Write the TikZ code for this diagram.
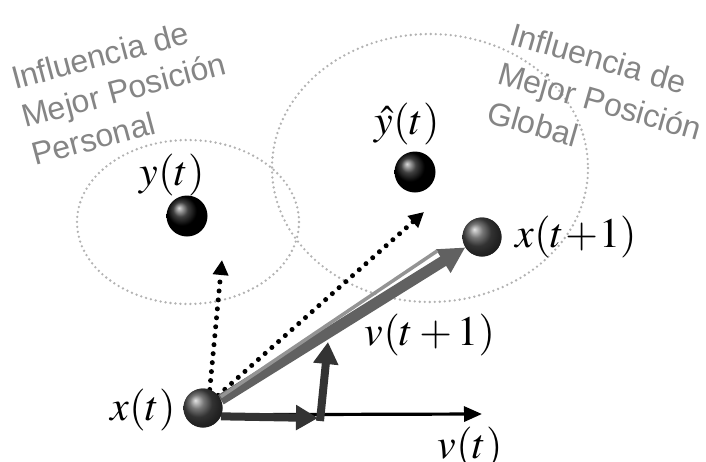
\documentclass[tikz,border=0pt]{standalone}
\usepackage{mathptmx}
\usepackage{fontspec}
\setsansfont{Liberation Sans}
\usetikzlibrary{arrows.meta}
\begin{document}
\begin{tikzpicture}[x=1pt,y=-1pt,
  ell/.style={draw=black!30, line width=2.6pt, dash pattern=on 0pt off 5pt, line cap=round},
  blackball/.style={circle, minimum size=41pt, inner sep=0pt, shading=ball, ball color=black},
  greyball/.style={circle, minimum size=39pt, inner sep=0pt, shading=ball, ball color=black!72},
  lbl/.style={font=\sffamily\fontsize{32}{38}\selectfont, text=black!48, inner sep=0pt, anchor=base west},
  mlbl/.style={font=\fontsize{42}{46}\selectfont, inner sep=0pt},
  dotarrow/.style={line width=5pt, dash pattern=on 0pt off 9pt, line cap=round, -{Triangle[length=15pt,width=15pt]}},
  bigarrow/.style={line width=11pt, draw=black!62, -{Triangle[length=26pt,width=26pt]}},
  darkarrow/.style={line width=8pt, draw=black!80, -{Triangle[length=22pt,width=24pt]}},
  thinarrow/.style={line width=3.2pt, draw=black, -{Triangle[length=18pt,width=15pt]}}
]
\useasboundingbox (0,0) rectangle (706,461);
\fill[white] (0,0) rectangle (706,461);
% regions
\draw[ell] (188,222) ellipse [x radius=111, y radius=82];
\draw[ell] (430,168) ellipse [x radius=158, y radius=134];
% texts
\node[lbl, rotate=15] (p1) at (15,90) {Influencia de};
\node[lbl, rotate=15] (p2) at (25,128) {Mejor Posición};
\node[lbl, rotate=15] (p3) at (35,166) {Personal};
\node[lbl, rotate=-16] (g1) at (508,44) {Influencia de};
\node[lbl, rotate=-16] (g2) at (496,83) {Mejor Posición};
\node[lbl, rotate=-16] (g3) at (485,122) {Global};
% balls
\node[blackball] (y) at (187,216) {};
\node[blackball] (yh) at (415,172) {};
\node[greyball] (xt1) at (482,237) {};
\node[greyball] (xt) at (203,408) {};
% coordinates
\coordinate (d1) at (222,260);
\coordinate (d2) at (424,212);
\coordinate (c1) at (318,418);
\coordinate (c0) at (320,421);
\coordinate (c2) at (328,342);
\coordinate (c3) at (482,414);
% arrows
\draw[thinarrow] (xt.-20) -- (c3);
\draw[dotarrow] (xt.70) -- (d1);
\draw[dotarrow] (xt.40) -- (d2);
\draw[bigarrow] (xt.25) -- (xt1);
\draw[line width=3.5pt, black!42, shorten >=30pt] ([yshift=3pt]xt.25) -- ([yshift=3pt]xt1.west);
\draw[darkarrow] (xt.-25) -- (c1);
\draw[darkarrow] (c0) -- (c2);
% redraw balls on top
\node[greyball] at (xt) {};
\node[greyball] at (xt1) {};
% math labels
\node[mlbl] (ly) at (172,175) {$y(t)$};
\node[mlbl] (lyh) at (407,124) {$\hat{y}(t)$};
\node[mlbl] (lxt1) at (576,237) {$x(t\!+\!1)$};
\node[mlbl] (lxt) at (143,410) {$x(t)$};
\node[mlbl] (lvt1) at (430,335) {$v(t+1)$};
\node[mlbl] (lvt) at (470,448) {$v(t)$};
\end{tikzpicture}
\end{document}
